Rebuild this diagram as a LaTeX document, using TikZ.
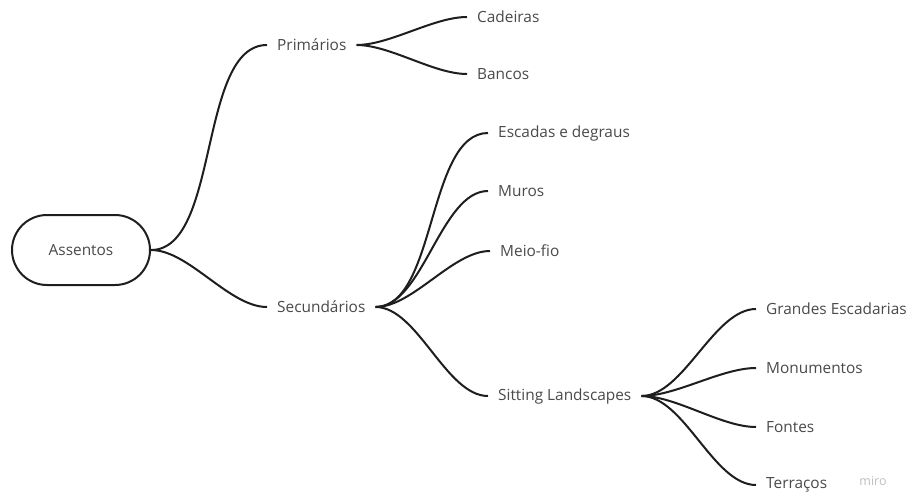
\documentclass[tikz,border=0pt]{standalone}
\usepackage{fontspec}
\setmainfont{Open Sans}
\definecolor{txt}{HTML}{4A4A4A}
\definecolor{ln}{HTML}{1E1E1E}
\begin{document}
\begin{tikzpicture}[x=1pt,y=-1pt,
  lbl/.style={anchor=west,inner xsep=10pt,inner ysep=2pt,text=txt,font=\fontsize{15.4}{18}\selectfont},
  rootbox/.style={draw=ln,line width=2pt,rounded corners=35pt,minimum width=138pt,minimum height=70pt,text=txt,font=\fontsize{15.4}{18}\selectfont},
  conn/.style={draw=ln,line width=2pt,out=0,in=180,looseness=0.75}]
\useasboundingbox[fill=white] (0,0) rectangle (909,495);
\node[rootbox] (root) at (81,250) {Assentos};
\node[lbl] (prim) at (267,45) {Primários};
\node[lbl] (sec) at (267,307) {Secundários};
\node[lbl] (cad) at (467,17) {Cadeiras};
\node[lbl] (ban) at (467,74) {Bancos};
\node[lbl] (esc) at (488,133) {Escadas e degraus};
\node[lbl] (mur) at (488,191) {Muros};
\node[lbl] (mei) at (490,251) {Meio-fio};
\node[lbl] (sit) at (488,396) {Sitting Landscapes};
\node[lbl] (gra) at (756,309) {Grandes Escadarias};
\node[lbl] (mon) at (756,368) {Monumentos};
\node[lbl] (fon) at (756,427) {Fontes};
\node[lbl] (ter) at (756,485) {Terraços};
\node[text=gray!50,font=\fontsize{12.5}{13}\selectfont] (miro) at (873,481) {miro};
\draw[conn] (root.east) to (prim.west);
\draw[conn] (root.east) to (sec.west);
\draw[conn] (prim.east) to (cad.west);
\draw[conn] (prim.east) to (ban.west);
\draw[conn] (sec.east) to (esc.west);
\draw[conn] (sec.east) to (mur.west);
\draw[conn] (sec.east) to (mei.west);
\draw[conn] (sec.east) to (sit.west);
\draw[conn] (sit.east) to (gra.west);
\draw[conn] (sit.east) to (mon.west);
\draw[conn] (sit.east) to (fon.west);
\draw[conn] (sit.east) to (ter.west);
\end{tikzpicture}
\end{document}
